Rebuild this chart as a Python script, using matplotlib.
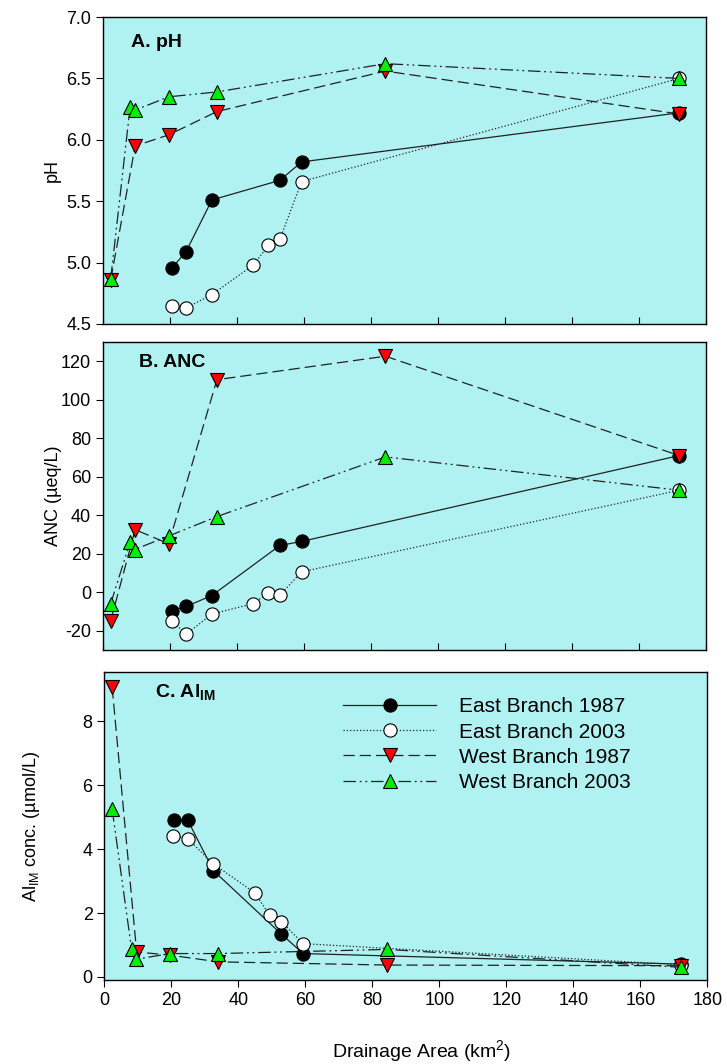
import numpy as np
import matplotlib
matplotlib.use('Agg')
import matplotlib.pyplot as plt

plt.rcParams['font.family'] = ['Liberation Sans', 'DejaVu Sans']
plt.rcParams['mathtext.fontset'] = 'custom'
plt.rcParams['mathtext.rm'] = 'Liberation Sans'
plt.rcParams['mathtext.bf'] = 'Liberation Sans:bold'
plt.rcParams['mathtext.default'] = 'regular'
plt.rcParams['axes.unicode_minus'] = False

# drainage areas (km2)
east87_x = [20.7, 24.8, 32.5, 52.8, 59.3, 172]
east03_x = [20.6, 24.8, 32.5, 44.9, 49.3, 52.8, 59.3, 172]
west87_x = [2.3, 9.6, 19.6, 34.0, 84.3, 172]
west03_x = [2.3, 8.1, 9.4, 19.6, 34.0, 84.3, 172]

# pH
east87_ph = [4.96, 5.09, 5.51, 5.67, 5.82, 6.22]
east03_ph = [4.65, 4.63, 4.74, 4.98, 5.14, 5.19, 5.66, 6.50]
west87_ph = [4.86, 5.95, 6.04, 6.23, 6.56, 6.21]
west03_ph = [4.87, 6.27, 6.24, 6.35, 6.39, 6.62, 6.50]

# ANC (ueq/L)
east87_anc = [-9.5, -7.4, -1.7, 24.3, 26.4, 71]
east03_anc = [-14.7, -21.9, -11.3, -5.9, -0.3, -1.5, 10.6, 53]
west87_anc = [-14.7, 32.5, 25.2, 110.4, 122.6, 71]
west03_anc = [-5.9, 26.2, 22.2, 29.2, 39.3, 70.3, 53]

# Al_IM (umol/L)
east87_al = [4.92, 4.92, 3.33, 1.34, 0.73, 0.40]
east03_al = [4.42, 4.33, 3.54, 2.63, 1.93, 1.73, 1.04, 0.38]
west87_al = [9.07, 0.78, 0.68, 0.47, 0.37, 0.35]
west03_al = [5.25, 0.86, 0.55, 0.73, 0.73, 0.86, 0.30]

labels = ['East Branch 1987', 'East Branch 2003', 'West Branch 1987', 'West Branch 2003']
bg = '#b0f1f1'
lc = '#222222'
styles = [
    dict(ls='-', marker='o', mfc='black', ms=9.5),
    dict(ls=':', marker='o', mfc='white', ms=9.5),
    dict(ls=(0, (9, 4)), marker='v', mfc='#ff0000', ms=10),
    dict(ls=(0, (10, 3, 1.5, 3, 1.5, 3)), marker='^', mfc='#00ee00', ms=10),
]

fig = plt.figure(figsize=(7.27, 10.64), dpi=100)
left, width = 0.1417, 0.8294
ax1 = fig.add_axes([left, 0.6955, width, 0.2885])
ax2 = fig.add_axes([left, 0.3891, width, 0.2895])
ax3 = fig.add_axes([left + 0.002, 0.0789, width, 0.2895])

datasets = [
    (ax1, [east87_ph, east03_ph, west87_ph, west03_ph]),
    (ax2, [east87_anc, east03_anc, west87_anc, west03_anc]),
    (ax3, [east87_al, east03_al, west87_al, west03_al]),
]
xs = [east87_x, east03_x, west87_x, west03_x]

for ax, ys in datasets:
    ax.set_facecolor(bg)
    for x, y, st, lab in zip(xs, ys, styles, labels):
        ax.plot(x, y, color=lc, lw=0.9, ls=st['ls'], marker=st['marker'],
                mfc=st['mfc'], mec='black', mew=0.8, ms=st['ms'], label=lab)
    ax.set_xlim(0, 180)
    ax.set_xticks(np.arange(0, 181, 20))
    ax.tick_params(axis='y', direction='out', labelsize=13, length=5)
    for s in ax.spines.values():
        s.set_linewidth(1.0)

for ax in (ax1, ax2):
    ax.tick_params(axis='x', direction='in', labelbottom=False, length=5)
ax3.tick_params(axis='x', direction='out', labelsize=13, length=5)

ax1.set_ylim(4.5, 7.0)
ax1.set_yticks(np.arange(4.5, 7.01, 0.5))
ax1.set_yticklabels(['%.1f' % v for v in np.arange(4.5, 7.01, 0.5)])
ax1.set_ylabel('pH', fontsize=13)
ax1.text(0.046, 0.903, 'A. pH', transform=ax1.transAxes, fontsize=14, fontweight='bold', va='baseline')

ax2.set_ylim(-30, 130)
ax2.set_yticks(np.arange(-20, 121, 20))
ax2.set_ylabel('ANC (µeq/L)', fontsize=13)
ax2.text(0.060, 0.92, 'B. ANC', transform=ax2.transAxes, fontsize=14, fontweight='bold', va='baseline')

ax3.set_ylim(-0.1, 9.55)
ax3.set_yticks(np.arange(0, 9, 2))
ax3.set_ylabel('Al$_{IM}$ conc. (µmol/L)', fontsize=13)
ax3.text(0.083, 0.919, r'C. Al$_{\mathbf{IM}}$', transform=ax3.transAxes, fontsize=14, fontweight='bold', va='baseline')
ax3.set_xlabel('Drainage Area (km$^2$)', fontsize=14)
ax3.xaxis.set_label_coords(0.526, -0.19)

ax3.legend(loc='upper left', bbox_to_anchor=(0.395, 0.918), frameon=False, fontsize=15,
           handlelength=4.5, numpoints=1, labelspacing=0.3, handletextpad=1.1,
           borderaxespad=0, borderpad=0)

ax1.yaxis.set_label_coords(-0.070, 0.5)
ax2.yaxis.set_label_coords(-0.068, 0.5)
ax3.yaxis.set_label_coords(-0.104, 0.5)

fig.savefig('out.png', dpi=100)
